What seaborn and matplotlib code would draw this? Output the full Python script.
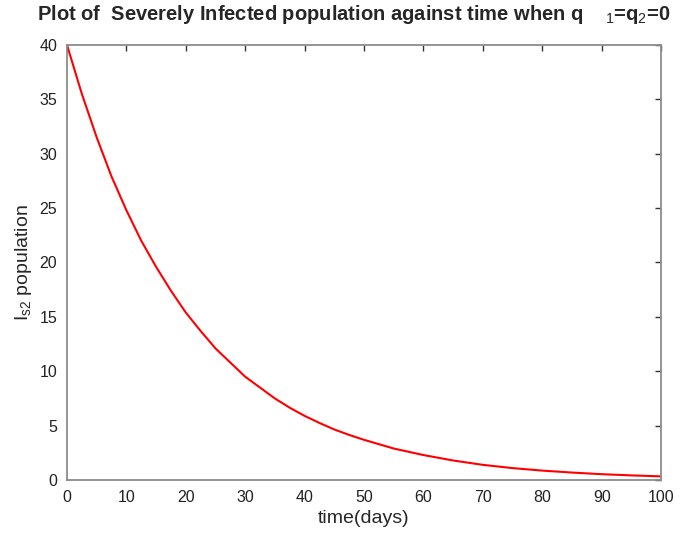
import pandas as pd
import seaborn as sns
import matplotlib.pyplot as plt

# values
days = [0, 2.5, 5, 7.5, 10, 12.5, 15, 17.5, 20, 22.5, 25, 27.5, 30,
        32.5, 35, 37.5, 40, 42.5, 45, 47.5, 50,
        55, 60, 65, 70, 75, 80, 85, 90, 95, 100]
severe = [40.0, 35.5, 31.5, 27.9, 24.8, 22.0, 19.6, 17.4, 15.4, 13.7, 12.1, 10.8, 9.5,
          8.5, 7.5, 6.65, 5.9, 5.25, 4.65, 4.15, 3.7,
          2.9, 2.3, 1.8, 1.4, 1.1, 0.87, 0.69, 0.54, 0.43, 0.34]
xticks = list(range(0, 101, 10))
yticks = list(range(0, 41, 5))

data = pd.DataFrame({'time': days, 'Is2': severe})

sns.set_style('white')
plt.rcParams['font.family'] = ['Liberation Sans', 'DejaVu Sans']
plt.rcParams['mathtext.fontset'] = 'custom'
plt.rcParams['mathtext.rm'] = 'Liberation Sans'

fig = plt.figure(figsize=(6.94, 5.34), dpi=100)
ax = fig.add_axes([0.0965, 0.101, 0.856, 0.815])

sns.lineplot(x=data.time, y=data.Is2, color='red', linewidth=1.5, ax=ax)

ax.set_xlim(0, 100)
ax.set_ylim(0, 40)
ax.set_xticks(xticks)
ax.set_yticks(yticks)
ax.tick_params(direction='in', length=4, width=1, color='#333333',
               labelsize=11.5, labelcolor='#222222', top=True, right=True, pad=7)
for s in ax.spines.values():
    s.set_color('#8c8c8c')
    s.set_linewidth(1.3)

ax.set_xlabel('time(days)', fontsize=14, labelpad=4)
ax.set_ylabel(r'$\mathrm{I}_{\mathrm{s2}}$ population', fontsize=14, labelpad=4)
fig.text(0.51, 0.972, 'Plot of  Severely Infected population against time when q    $_1$=q$_2$=0',
         ha='center', va='center', fontsize=14.5, fontweight='bold')

fig.savefig('out.png', dpi=100)
